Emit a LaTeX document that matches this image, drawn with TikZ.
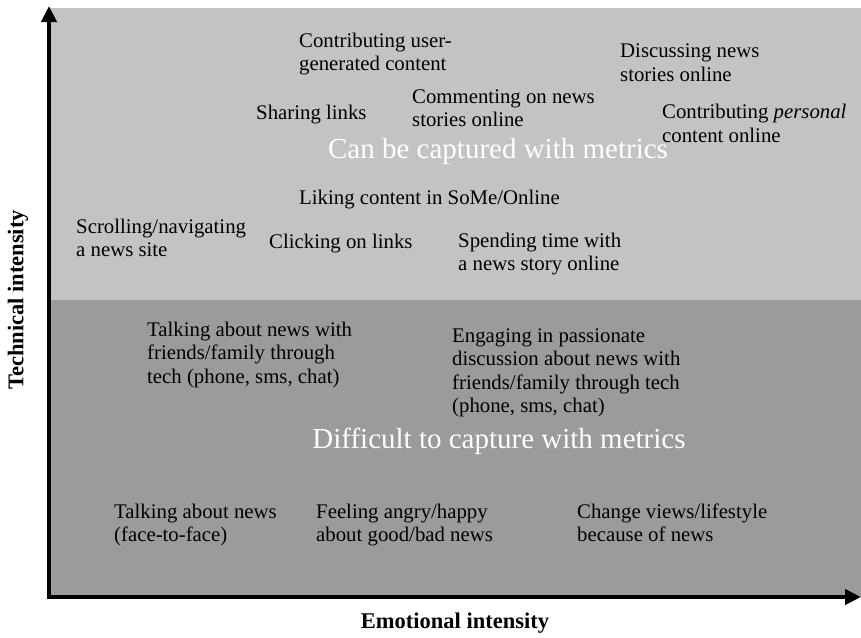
\documentclass[tikz,border=0pt]{standalone}
\usepackage{fontspec}
\setmainfont{Liberation Serif}
\usetikzlibrary{arrows.meta}

\definecolor{upperzone}{HTML}{C3C3C3}
\definecolor{lowerzone}{HTML}{9B9B9B}

% items are placed at the baseline of their last line
\tikzset{
  item/.style={anchor=base west,align=left,inner sep=0pt,font=\fontsize{20.8}{23.5}\selectfont},
  zonetitle/.style={text=white,inner sep=0pt,font=\fontsize{29}{33}\selectfont},
  axislabel/.style={inner sep=0pt,font=\fontsize{22.5}{26}\selectfont\bfseries},
  axisline/.style={line width=4pt,-{Triangle[length=16pt,width=15pt]}}
}

\begin{document}
\begin{tikzpicture}[x=1pt,y=-1pt]
\useasboundingbox (0,0) rectangle (861,637);
%\draw [help lines,step=50] (0,0) grid (861,637);
\fill [upperzone] (49,8) rectangle (861,300);
\fill [lowerzone] (49,300) rectangle (861,597);

% upper zone
\node [item] (contrib) at (299,70.5) {Contributing user-\\generated content};
\node [item] (discuss) at (620,81) {Discussing news\\stories online};
\node [item] (sharing) at (256,119) {Sharing links};
\node [item] (comment) at (412,126.5) {Commenting on news\\stories online};
\node [item] (personal) at (662,142) {Contributing \textit{personal}\\content online};
\node [zonetitle] (captured) at (498,152) {Can be captured with metrics};
\node [item] (liking) at (299,204) {Liking content in SoMe/Online};
\node [item] (scrolling) at (76,256.5) {Scrolling/navigating\\a news site};
\node [item] (clicking) at (269,248) {Clicking on links};
\node [item] (spending) at (458,270.5) {Spending time with\\a news story online};

% lower zone
\node [item] (talktech) at (147,383) {Talking about news with\\friends/family through\\tech (phone, sms, chat)};
\node [item] (passion) at (452,412.5) {Engaging in passionate\\discussion about news with\\friends/family through tech\\(phone, sms, chat)};
\node [zonetitle] (difficult) at (499,441) {Difficult to capture with metrics};
\node [item] (faceface) at (114,541.5) {Talking about news\\(face-to-face)};
\node [item] (feeling) at (316,541.5) {Feeling angry/happy\\about good/bad news};
\node [item] (change) at (577,541.5) {Change views/lifestyle\\because of news};

% axes
\coordinate (origin) at (49,597);
\coordinate (ytip) at (49,6);
\coordinate (xtip) at (861,597);
\draw [axisline] ([yshift=2pt]origin) -- (ytip);
\draw [axisline] ([xshift=-2pt]origin) -- (xtip);
\node [axislabel] (emotional) at (455,623) {Emotional intensity};
\node [axislabel,rotate=90] (technical) at (18,300) {Technical intensity};
\end{tikzpicture}
\end{document}
